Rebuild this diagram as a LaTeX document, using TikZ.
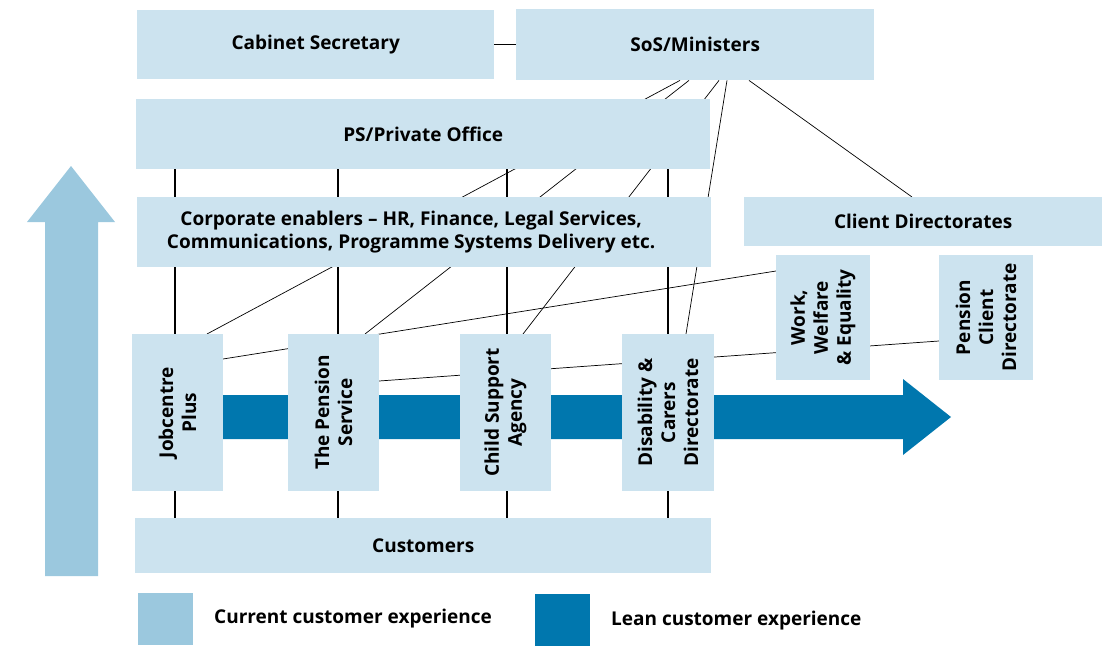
\documentclass[tikz,border=0pt]{standalone}
\usepackage{fontspec}
\setmainfont{Open Sans}
\usetikzlibrary{calc}
\definecolor{boxblue}{HTML}{CCE3EF}
\definecolor{currentblue}{HTML}{9BC8DE}
\definecolor{leanblue}{HTML}{0077AE}
\pgfdeclarelayer{back}
\pgfsetlayers{back,main}
\begin{document}
\begin{tikzpicture}[x=1pt,y=-1pt,
  txt/.style={font=\bfseries\fontsize{19}{23}\selectfont},
  unit/.style={txt, fill=boxblue, inner sep=0pt, align=center, anchor=north west},
  vunit/.style={txt, fill=boxblue, inner sep=0pt, align=center, rotate=90},
  tie/.style={draw=black, line width=1.1pt},
  link/.style={draw=black, line width=0.7pt}]
\useasboundingbox (0,0) rectangle (1103,646);

% organisation boxes
\node[unit, minimum width=357, minimum height=69] (cab) at (137,10) {Cabinet Secretary};
\node[unit, minimum width=358, minimum height=71] (sos) at (516,9) {SoS/Ministers};
\node[unit, minimum width=574, minimum height=70] (ps) at (136,99) {PS/Private Office};
\node[unit, minimum width=574, minimum height=70] (corp) at (137,197)
  {Corporate enablers -- HR, Finance, Legal Services,\hspace*{26pt}\\Communications, Programme Systems Delivery etc.\hspace*{26pt}};
\node[unit, minimum width=358, minimum height=49] (cd) at (744,197) {Client Directorates};
\node[unit, minimum width=576, minimum height=55] (cust) at (135,518) {Customers};

% delivery units, labels read upwards
\node[vunit, minimum width=157, minimum height=91] (jcp) at (177.5,412.5) {Jobcentre\\Plus};
\node[vunit, minimum width=157, minimum height=91] (tps) at (333.5,412.5) {The Pension\\Service};
\node[vunit, minimum width=157, minimum height=91] (csa) at (505.5,412.5) {Child Support\\Agency};
\node[vunit, minimum width=157, minimum height=92] (dcd) at (668,412.5) {Disability \&\\Carers\\Directorate};
\node[vunit, minimum width=125, minimum height=94] (wwe) at (823,317.5) {Work,\\Welfare\\\& Equality};
\node[vunit, minimum width=125, minimum height=94] (pcd) at (986,317.5) {Pension\\Client\\Directorate};

% arrows and connectors, beneath the boxes
\begin{pgfonlayer}{back}
  \fill[currentblue] (45,576) -- (45,222) -- (27,222) -- (71,166) -- (115,222) -- (98,222) -- (98,576) -- cycle;
  \fill[leanblue] (223,395) -- (903,395) -- (903,379) -- (951,417) -- (903,455) -- (903,439) -- (223,439) -- cycle;

  \draw[tie] (cab.east) -- (sos.west);
  \draw[tie] (ps.south -| 175,0) -- (cust.north -| 175,0);
  \draw[tie] (ps.south -| 338,0) -- (cust.north -| 338,0);
  \draw[tie] (ps.south -| 507,0) -- (cust.north -| 507,0);
  \draw[tie] (ps.south -| 668,0) -- (cust.north -| 668,0);

  \draw[link] ($(sos.south west)+(164,0)$) -- ($(jcp.center)+(29.5,-78.5)$);
  \draw[link] ($(sos.south west)+(173,0)$) -- ($(tps.center)+(31.5,-78.5)$);
  \draw[link] ($(sos.south west)+(203,0)$) -- ($(csa.center)+(17.5,-78.5)$);
  \draw[link] ($(sos.south west)+(211,0)$) -- ($(dcd.center)+(18,-78.5)$);
  \draw[link] ($(sos.south west)+(233,0)$) -- ($(cd.north west)+(168,0)$);
  \draw[link] ($(jcp.center)+(45.5,-53.5)$) -- ($(wwe.center)+(-47,-46.5)$);
  \draw[link] ($(tps.center)+(45.5,-31.5)$) -- ($(pcd.center)+(-47,23.5)$);
\end{pgfonlayer}

% legend
\node[fill=currentblue, minimum width=55, minimum height=52, inner sep=0pt, anchor=north west] (keycur) at (138,593) {};
\node[txt, anchor=west, inner sep=0pt] (keycurtxt) at (214,619) {Current customer experience};
\node[fill=leanblue, minimum width=55, minimum height=52, inner sep=0pt, anchor=north west] (keylean) at (535,594) {};
\node[txt, anchor=west, inner sep=0pt] (keyleantxt) at (611,621) {Lean customer experience};
\end{tikzpicture}
\end{document}
